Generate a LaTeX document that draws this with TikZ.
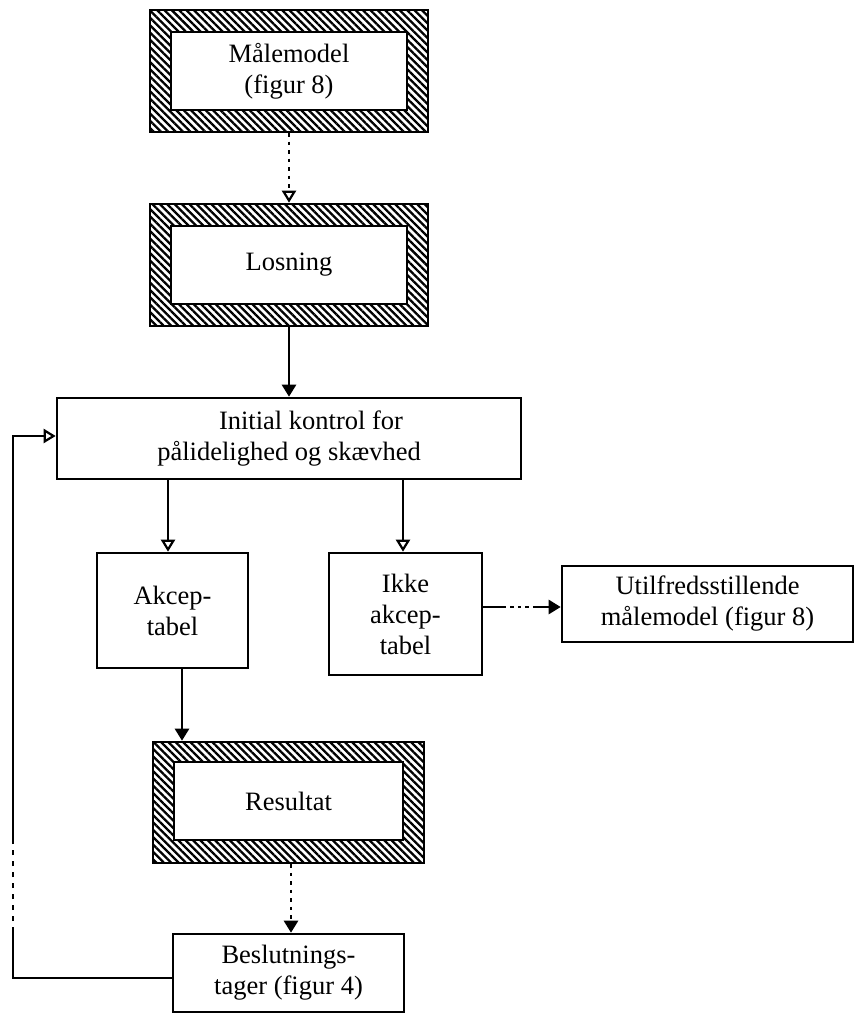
\documentclass[tikz,border=0pt]{standalone}
\usepackage{fontspec}
\setmainfont{Liberation Serif}
\usetikzlibrary{patterns.meta,arrows.meta}
\begin{document}
\begin{tikzpicture}[x=1pt,y=-1pt,
  txt/.style={font=\fontsize{26.5}{31}\selectfont, align=center},
  plainbox/.style={draw, line width=2.6pt, txt, inner sep=0pt},
  hatchouter/.style={draw, line width=2.6pt, pattern={Lines[angle=-45,distance=5.2pt,line width=2.3pt]}, inner sep=0pt},
  innerwhite/.style={draw, fill=white, line width=2.4pt, txt, inner sep=0pt},
  arr/.style={line width=2.6pt, -{Triangle[width=14pt,length=12pt]}},
  arro/.style={line width=2.6pt, -{Triangle[open,width=14pt,length=12pt,line width=2.2pt]}},
  dotl/.style={dash pattern=on 3.5pt off 5pt},
  fb/.style={line width=2.6pt}
]
\useasboundingbox (0,0) rectangle (862,1015);

% hatched boxes
\node[hatchouter, minimum width=278pt, minimum height=122pt] (mo) at (289,71) {};
\node[innerwhite, minimum width=236pt, minimum height=78pt] (m) at (289,71) {Målemodel\\(figur 8)};

\node[hatchouter, minimum width=278pt, minimum height=122pt] (lo) at (289,265) {};
\node[innerwhite, minimum width=236pt, minimum height=78pt] (l) at (289,265) {Losning};

\node[plainbox, minimum width=464pt, minimum height=81pt] (ini) at (289,438.5) {\hspace*{44pt}Initial kontrol for\\pålidelighed og skævhed};

\node[plainbox, minimum width=151pt, minimum height=115pt] (ak) at (172.5,610.5) {Akcep-\\tabel};
\node[plainbox, minimum width=153pt, minimum height=122pt] (ik) at (405.5,614) {Ikke\\akcep-\\tabel};
\node[plainbox, minimum width=291pt, minimum height=76pt] (ut) at (707.5,604) {Utilfredsstillende\\målemodel (figur 8)};

\node[hatchouter, minimum width=271pt, minimum height=121pt] (ro) at (288.5,802.5) {};
\node[innerwhite, minimum width=229pt, minimum height=78pt] (r) at (288.5,801) {Resultat};

\node[plainbox, minimum width=231pt, minimum height=78pt] (be) at (288.5,973) {Beslutnings-\\tager (figur 4)};

% helper coordinates
\coordinate (xA) at (168,0);
\coordinate (xI) at (403,0);
\coordinate (xR) at (182,0);
\coordinate (xC) at (289,0);
\coordinate (xD) at (291,0);
\coordinate (yU) at (0,607);
\coordinate (fb1) at (13,978);
\coordinate (fb2) at (13,932);
\coordinate (fb3) at (13,840);
\coordinate (fb4) at (13,436);

% connectors
\draw[arro, dotl] (mo.south -| xC) -- (lo.north -| xC);
\draw[arr] (lo.south -| xC) -- (ini.north -| xC);
\draw[arro] (ini.south -| xA) -- (ak.north -| xA);
\draw[arro] (ini.south -| xI) -- (ik.north -| xI);
\draw[arr, dash pattern=on 23pt off 4pt on 3.5pt off 4pt on 3.5pt off 4pt on 3.5pt off 4pt on 60pt] (ik.east |- yU) -- (ut.west |- yU);
\draw[arr] (ak.south -| xR) -- (ro.north -| xR);
\draw[arr, dotl] (ro.south -| xD) -- (be.north -| xD);

\draw[fb] (be.west |- fb1) -- (fb1) -- (fb2);
\draw[fb, dash pattern=on 5pt off 6pt] (fb2) -- (fb3);
\draw[arro] (fb3) -- (fb4) -- (ini.west |- fb4);
\end{tikzpicture}
\end{document}
